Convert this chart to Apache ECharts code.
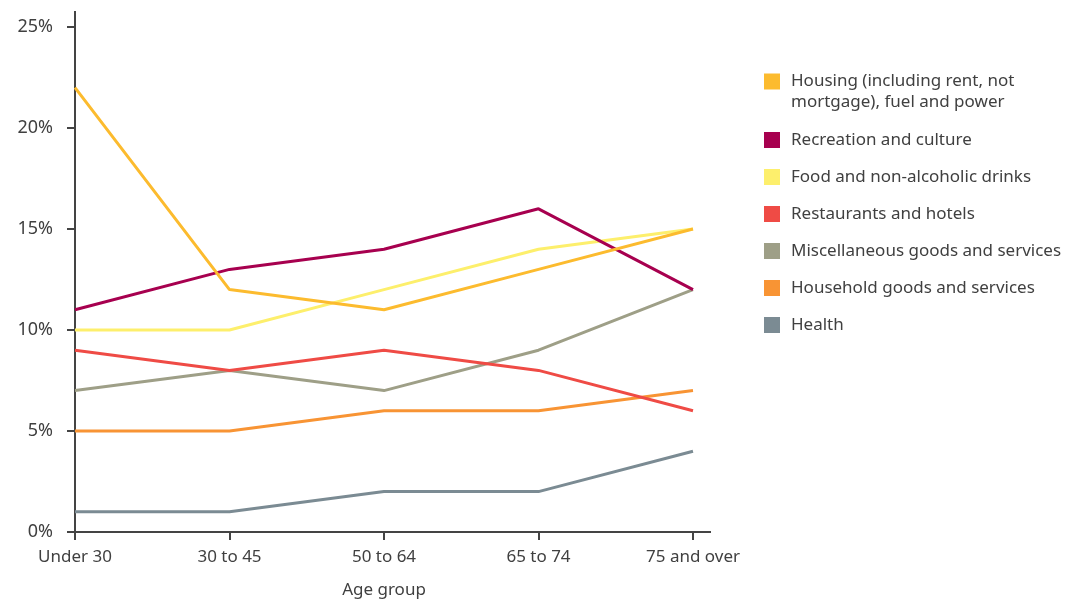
<!DOCTYPE html>
<html>
<head>
<meta charset="utf-8">
<script src="https://cdn.jsdelivr.net/npm/echarts@6/dist/echarts.min.js"></script>
<style>
    html, body { margin: 0; padding: 0; background: #fff; }
    #chart { width: 1074px; height: 603px; }
</style>
</head>
<body>
<div id="chart"></div>
<script>
    // categories and values (percent of spending)
    var ageGroups = ['Under 30', '30 to 45', '50 to 64', '65 to 74', '75 and over'];
    var yTicks = [0, 5, 10, 15, 20, 25];

    var housing = [22, 12, 11, 13, 15];
    var recreation = [11, 13, 14, 16, 12];
    var food = [10, 10, 12, 14, 15];
    var restaurants = [9, 8, 9, 8, 6];
    var misc = [7, 8, 7, 9, 12];
    var household = [5, 5, 6, 6, 7];
    var health = [1, 1, 2, 2, 4];

    var seriesNames = [
        'Housing (including rent, not mortgage), fuel and power',
        'Recreation and culture',
        'Food and non-alcoholic drinks',
        'Restaurants and hotels',
        'Miscellaneous goods and services',
        'Household goods and services',
        'Health'
    ];
    var seriesData = [housing, recreation, food, restaurants, misc, household, health];
    var colors = ['#fcbb2e', '#a7004f', '#fdef6c', '#ef4b45', '#9e9f87', '#f89434', '#7b8b93'];

    var font = 'Noto Sans';
    var textColor = '#404040';
    var axisColor = '#444';

    var series = [];
    for (var i = seriesData.length - 1; i >= 0; i--) {
        series.push({
            name: seriesNames[i],
            type: 'line',
            data: seriesData[i],
            symbol: 'none',
            color: colors[i],
            lineStyle: { width: 3, color: colors[i] },
            z: 10 - i
        });
    }

    var legendText = {
        color: textColor,
        fontFamily: font,
        fontSize: 17,
        padding: [0, 0, 0, 6]
    };

    var option = {
        animation: false,
        grid: { left: 75, right: 381, top: 27, bottom: 71, outerBoundsMode: 'none', containLabel: false },
        xAxis: {
            type: 'category',
            data: ageGroups,
            boundaryGap: false,
            name: 'Age group',
            nameLocation: 'middle',
            nameGap: 50,
            nameTextStyle: { color: textColor, fontFamily: font, fontSize: 17 },
            axisLine: { lineStyle: { color: axisColor, width: 2 } },
            axisTick: { length: 8, lineStyle: { color: axisColor, width: 2 } },
            axisLabel: { color: textColor, fontFamily: font, fontSize: 17, margin: 17 },
            splitLine: { show: false }
        },
        yAxis: {
            type: 'value',
            min: yTicks[0],
            max: yTicks[yTicks.length - 1],
            interval: 5,
            axisLine: { show: true, lineStyle: { color: axisColor, width: 2 } },
            axisTick: { show: true, length: 8, lineStyle: { color: axisColor, width: 2 } },
            axisLabel: {
                color: textColor, fontFamily: font, fontSize: 18, margin: 22,
                formatter: '{value}%'
            },
            splitLine: { show: false }
        },
        legend: [
            {
                data: [seriesNames[0]],
                orient: 'vertical',
                left: 764,
                top: 50,
                padding: 0,
                itemWidth: 16,
                itemHeight: 16,
                icon: 'rect',
                formatter: function () {
                    return ' \nHousing (including rent, not\nmortgage), fuel and power';
                },
                textStyle: Object.assign({ lineHeight: 21 }, legendText)
            },
            {
                data: seriesNames.slice(1),
                orient: 'vertical',
                left: 764,
                top: 130,
                padding: 0,
                itemGap: 17,
                itemWidth: 16,
                itemHeight: 16,
                icon: 'rect',
                textStyle: Object.assign({ lineHeight: 20 }, legendText)
            }
        ],
        series: series
    };

    var chart = echarts.init(document.getElementById('chart'));
    chart.setOption(option);

    // axis lines run a little past the last tick in the original
    var origin = chart.convertToPixel({ gridIndex: 0 }, [0, 0]);
    var xEnd = chart.convertToPixel({ gridIndex: 0 }, [ageGroups.length - 1, 0]);
    var yEnd = chart.convertToPixel({ gridIndex: 0 }, [0, yTicks[yTicks.length - 1]]);
    chart.setOption({
        graphic: [
            {
                type: 'line',
                shape: { x1: xEnd[0], y1: origin[1], x2: xEnd[0] + 18, y2: origin[1] },
                style: { stroke: axisColor, lineWidth: 2 }
            },
            {
                type: 'line',
                shape: { x1: origin[0], y1: yEnd[1], x2: origin[0], y2: yEnd[1] - 16 },
                style: { stroke: axisColor, lineWidth: 2 }
            }
        ]
    });
</script>
</body>
</html>
